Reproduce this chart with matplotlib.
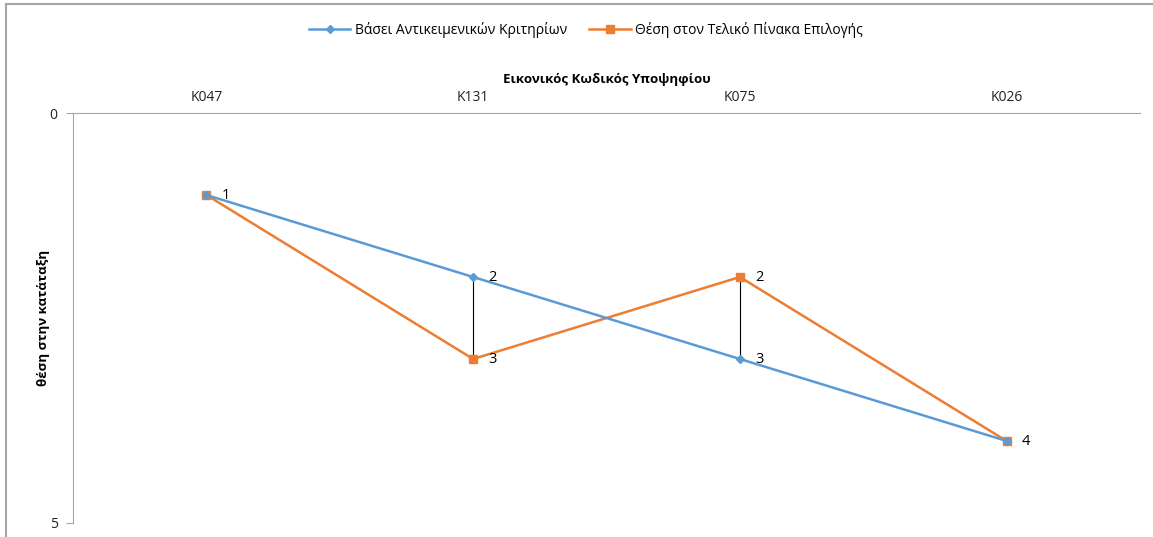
import matplotlib.pyplot as plt
from matplotlib.lines import Line2D

plt.rcParams['font.family'] = ['Open Sans', 'Noto Sans', 'DejaVu Sans']

candidates = ['K047', 'K131', 'K075', 'K026']
objective_rank = [1, 2, 3, 4]
final_rank = [1, 3, 2, 4]
label_objective = 'Βάσει Αντικειμενικών Κριτηρίων'
label_final = 'Θέση στον Τελικό Πίνακα Επιλογής'

blue = '#5B9BD5'
orange = '#ED7D31'

fig = plt.figure(figsize=(11.53, 5.37), dpi=100)
ax = fig.add_axes([73/1153, 1 - 523/537, (1140 - 73)/1153, (523 - 113)/537])

x = list(range(len(candidates)))

# high-low lines
for i in x:
    ax.plot([i, i], [objective_rank[i], final_rank[i]], color='black', lw=0.8, zorder=1)

ax.plot(x, objective_rank, color=blue, lw=1.8, marker='D', markersize=4,
        label=label_objective, zorder=3)
ax.plot(x, final_rank, color=orange, lw=1.8, marker='s', markersize=6,
        label=label_final, zorder=2)

for i in x:
    ax.annotate(str(objective_rank[i]), (i, objective_rank[i]), xytext=(11, 0),
                textcoords='offset points', va='center', ha='left', fontsize=10.5, color='black')
    if final_rank[i] != objective_rank[i]:
        ax.annotate(str(final_rank[i]), (i, final_rank[i]), xytext=(11, 0),
                    textcoords='offset points', va='center', ha='left', fontsize=10.5, color='black')

ax.set_xlim(-0.5, 3.5)
ax.set_ylim(5, 0)
ax.set_yticks([0, 5])
ax.set_xticks(x)
ax.set_xticklabels(candidates)
ax.xaxis.tick_top()
ax.xaxis.set_label_position('top')
ax.set_xlabel('Εικονικός Κωδικός Υποψηφίου', fontsize=9.5, fontweight='bold', labelpad=5)
ax.set_ylabel('θέση στην κατάταξη', fontsize=9.5, fontweight='bold', labelpad=0)

for s in ['bottom', 'right']:
    ax.spines[s].set_visible(False)
for s in ['top', 'left']:
    ax.spines[s].set_color('#A6A6A6')
ax.tick_params(axis='x', length=0, labelsize=10, pad=6, colors='#222222')
ax.tick_params(axis='y', length=5, labelsize=10, color='#A6A6A6', labelcolor='#222222', pad=6)

fig.legend(loc='upper center', bbox_to_anchor=(0.508, 1 - 9/537), ncol=2, frameon=False,
           fontsize=10, handlelength=3, handletextpad=0.3, columnspacing=1.6)

# outer chart border (top and left visible)
fig.add_artist(Line2D([6/1153, 6/1153], [0, 1 - 4/537], color='#A6A6A6', lw=1.5))
fig.add_artist(Line2D([6/1153, 1], [1 - 4/537, 1 - 4/537], color='#A6A6A6', lw=1.5))

fig.savefig('out.png', dpi=100)
